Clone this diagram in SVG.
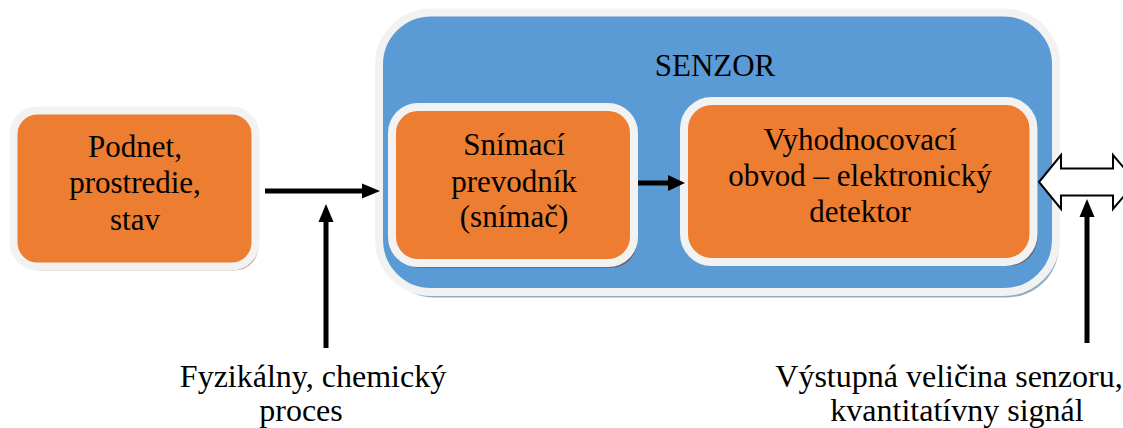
<svg xmlns="http://www.w3.org/2000/svg" width="1123" height="428" viewBox="0 0 1123 428">
  <style>
    .lbl { font-family: "Liberation Serif", "Times New Roman", serif; font-size: 31px; fill: #000; text-anchor: middle; }
    .cap { font-size: 32px; }
    .frame { stroke: #f2f2f2; stroke-width: 8; }
    .orange { fill: #ed7d31; }
    .blue { fill: #5b9bd5; }
    .shade-dark { fill: #6f6a70; }
    .shade-tan { fill: #c8a185; }
    .shade-blue { fill: #93adc6; }
    .conn { stroke: #000; stroke-width: 5; fill: none; }
    .head { fill: #000; }
  </style>

  <!-- source of the signal -->
  <g id="podnet">
    <rect class="shade-tan" x="16.5" y="114.5" width="242" height="156" rx="24"/>
    <rect class="orange frame" x="13.5" y="110.5" width="242" height="156" rx="24"/>
    <text class="lbl" x="135" y="157">Podnet,</text>
    <text class="lbl" x="135" y="193">prostredie,</text>
    <text class="lbl" x="135" y="230">stav</text>
  </g>

  <!-- sensor enclosure -->
  <g id="senzor">
    <rect class="shade-blue" x="382" y="17.5" width="677" height="280" rx="52"/>
    <rect class="blue frame" x="379" y="12.5" width="677" height="279.5" rx="52"/>
    <text class="lbl" x="715" y="76">SENZOR</text>
  </g>

  <g id="snimac">
    <rect class="shade-dark" x="395" y="111" width="242" height="157" rx="26"/>
    <rect class="orange frame" x="392" y="107" width="242" height="156" rx="26"/>
    <text class="lbl" x="514" y="155">Snímací</text>
    <text class="lbl" x="514" y="192">prevodník</text>
    <text class="lbl" x="514" y="227">(snímač)</text>
  </g>

  <g id="vyhodnocovaci">
    <rect class="shade-dark" x="688" y="105" width="349.5" height="161" rx="28"/>
    <rect class="orange frame" x="684" y="101" width="349.5" height="161" rx="28"/>
    <text class="lbl" x="860" y="150">Vyhodnocovací</text>
    <text class="lbl" x="860" y="186">obvod – elektronický</text>
    <text class="lbl" x="860" y="222">detektor</text>
  </g>

  <!-- connectors -->
  <g id="connectors">
    <line class="conn" x1="265" y1="191" x2="364" y2="191"/>
    <polygon class="head" points="380,191 362,183.5 362,198.5"/>

    <line class="conn" x1="326" y1="348" x2="326" y2="218"/>
    <polygon class="head" points="326,204 318.5,222 333.5,222"/>

    <line class="conn" x1="638" y1="183" x2="670" y2="183"/>
    <polygon class="head" points="685,183 668,175 668,191"/>

    <!-- two-way output block arrow -->
    <polygon fill="#fff" stroke="#000" stroke-width="2"
             points="1039,182 1061,155 1061,168.5 1113,168.5 1113,155 1136,182 1113,209 1113,195.5 1061,195.5 1061,209"/>

    <line class="conn" x1="1087" y1="343" x2="1087" y2="214"/>
    <polygon class="head" points="1087,199 1079.5,217 1094.5,217"/>
  </g>

  <!-- captions -->
  <g id="vstup-popis">
    <text class="lbl cap" x="313" y="387">Fyzikálny, chemický</text>
    <text class="lbl cap" x="301" y="421">proces</text>
  </g>
  <g id="vystup-popis">
    <text class="lbl cap" x="949" y="387">Výstupná veličina senzoru,</text>
    <text class="lbl cap" x="957" y="421">kvantitatívny signál</text>
  </g>
</svg>
